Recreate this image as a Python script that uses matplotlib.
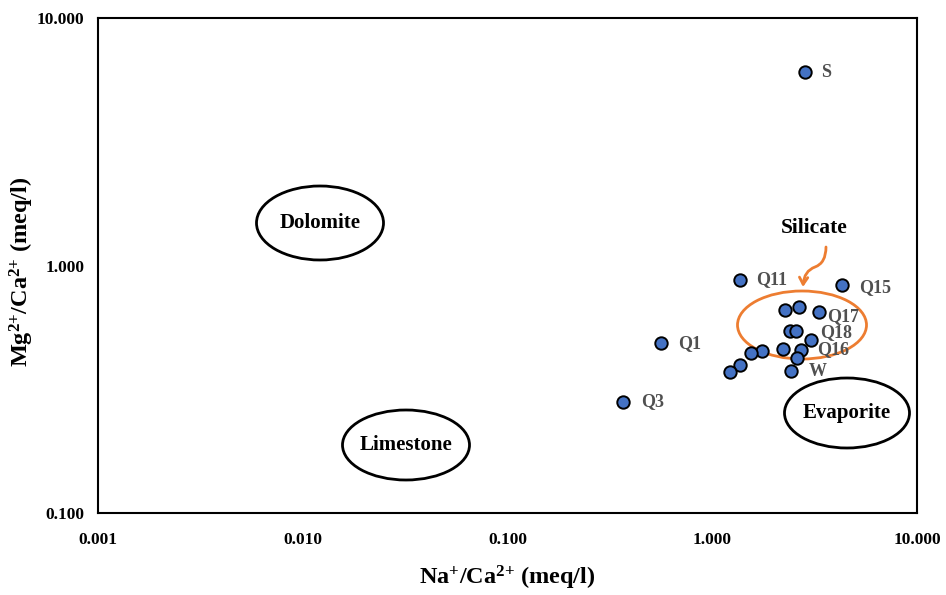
import matplotlib
matplotlib.use("Agg")
import matplotlib.pyplot as plt
from matplotlib.patches import Ellipse, FancyArrowPatch
from matplotlib.path import Path
from matplotlib.ticker import FixedLocator, FixedFormatter, NullLocator

plt.rcParams['font.family'] = ['Liberation Serif', 'DejaVu Serif']
plt.rcParams['mathtext.fontset'] = 'custom'
plt.rcParams['mathtext.rm'] = 'Liberation Serif:bold'
plt.rcParams['mathtext.it'] = 'Liberation Serif:bold:italic'
plt.rcParams['mathtext.bf'] = 'Liberation Serif:bold'

# Data: Na+/Ca2+ (x) and Mg2+/Ca2+ (y), meq/l
na_ca = [2.85, 1.36, 4.32, 0.560, 0.368,
         2.27, 2.64, 3.31, 2.40, 2.56, 3.05, 2.22, 2.72, 2.59, 2.42,
         1.75, 1.55, 1.37, 1.22]
mg_ca = [6.03, 0.874, 0.832, 0.488, 0.282,
         0.661, 0.682, 0.649, 0.544, 0.544, 0.499, 0.460, 0.456, 0.422, 0.376,
         0.450, 0.442, 0.397, 0.372]
labels = ['S', 'Q11', 'Q15', 'Q1', 'Q3',
          '', '', 'Q17', '', 'Q18', '', '', 'Q16', '', 'W',
          '', '', '', '']
# label offsets in pixels (dx right, dy down)
offsets = [(16, 0), (17, 0), (17, 2), (17, 1), (18, 0),
           (0, 0), (0, 0), (8, 5), (0, 0), (24, 2), (0, 0), (0, 0), (16, 0), (0, 0), (18, 1),
           (0, 0), (0, 0), (0, 0), (0, 0)]

x_ticks = [0.001, 0.01, 0.1, 1, 10]
x_ticklabels = ['0.001', '0.010', '0.100', '1.000', '10.000']
y_ticks = [0.1, 1, 10]
y_ticklabels = ['0.100', '1.000', '10.000']

fig = plt.figure(figsize=(9.46, 5.95), dpi=100)
L, R, T, B = 98, 917, 18, 513
W, H = 946, 595
ax = fig.add_axes([L / W, 1 - B / H, (R - L) / W, (B - T) / H])
ax.set_xscale('log')
ax.set_yscale('log')
ax.set_xlim(0.001, 10)
ax.set_ylim(0.1, 10)

ax.scatter(na_ca, mg_ca, s=80, c='#4472C4', edgecolors='black', linewidths=1.4, zorder=3)
for x, y, lab, (dx, dy) in zip(na_ca, mg_ca, labels, offsets):
    if lab:
        ax.annotate(lab, (x, y), xytext=(dx, -dy), textcoords='offset pixels',
                    ha='left', va='center', fontsize=13, fontweight='bold', color='#505050')

ax.xaxis.set_major_locator(FixedLocator(x_ticks))
ax.xaxis.set_major_formatter(FixedFormatter(x_ticklabels))
ax.yaxis.set_major_locator(FixedLocator(y_ticks))
ax.yaxis.set_major_formatter(FixedFormatter(y_ticklabels))
ax.xaxis.set_minor_locator(NullLocator())
ax.yaxis.set_minor_locator(NullLocator())
ax.tick_params(axis='both', length=0, labelsize=12.5)
ax.tick_params(axis='x', pad=14)
ax.tick_params(axis='y', pad=10)
for lab in ax.get_xticklabels() + ax.get_yticklabels():
    lab.set_fontweight('bold')
for sp in ax.spines.values():
    sp.set_linewidth(1.5)
    sp.set_color('black')

fig.text(507 / W, 1 - 578 / H, r'Na$^{{+}}$/Ca$^{2{+}}$ (meq/l)', fontsize=17.5,
         fontweight='bold', ha='center', va='center')
fig.text(22 / W, 1 - 272 / H, r'Mg$^{2{+}}$/Ca$^{2{+}}$ (meq/l)', fontsize=17.5,
         fontweight='bold', ha='center', va='center', rotation=90)

def fx(px):
    return (px - L) / (R - L)

def fy(py):
    return (B - py) / (B - T)

def pw(p):
    return p / (R - L)

def ph(p):
    return p / (B - T)

regions = [('Dolomite', 320, 223, 127, 74),
           ('Limestone', 406, 445, 127, 70),
           ('Evaporite', 847, 413, 125, 70)]
for name, cx, cy, w, h in regions:
    ax.add_patch(Ellipse((fx(cx), fy(cy)), pw(w), ph(h), transform=ax.transAxes,
                         fill=False, edgecolor='black', linewidth=2, zorder=2))
    ax.text(fx(cx), fy(cy), name, transform=ax.transAxes, ha='center', va='center',
            fontsize=15, fontweight='bold', color='black')

ax.add_patch(Ellipse((fx(802), fy(325)), pw(129), ph(68), transform=ax.transAxes,
                     fill=False, edgecolor='#ED7D31', linewidth=2, zorder=2))
ax.text(fx(814), fy(228), 'Silicate', transform=ax.transAxes, ha='center', va='center',
        fontsize=15.5, fontweight='bold', color='black')

pts = [(826, 247), (826, 263), (815, 267), (804, 271), (803, 287)]
path = Path([(fx(a), fy(b)) for a, b in pts],
            [Path.MOVETO, Path.CURVE3, Path.CURVE3, Path.CURVE3, Path.CURVE3])
arrow = FancyArrowPatch(path=path, arrowstyle='->,head_length=5,head_width=3',
                        color='#ED7D31', linewidth=2, transform=ax.transAxes)
ax.add_patch(arrow)

fig.savefig('out.png', dpi=100)
